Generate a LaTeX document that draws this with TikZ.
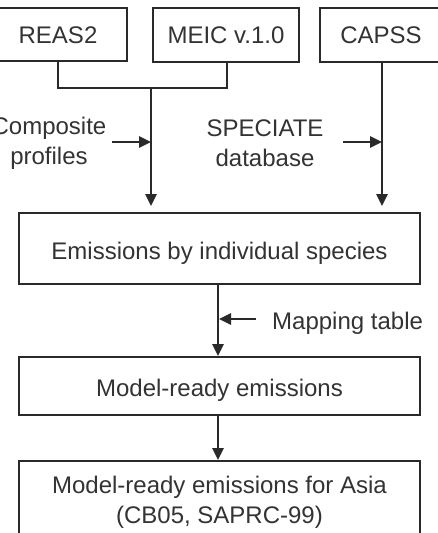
\documentclass[tikz,border=0pt]{standalone}
\usepackage{fontspec}
\setmainfont{Liberation Sans}
\usetikzlibrary{arrows.meta}
\definecolor{txt}{HTML}{333333}
\definecolor{ln}{HTML}{2A2A2A}
\begin{document}
\begin{tikzpicture}[x=1pt,y=-1pt,
  box/.style={draw=ln,line width=1.7pt,text=txt},
  lbl/.style={text=txt,align=center,inner sep=0pt},
  conn/.style={draw=ln,line width=2.6pt},
  arr/.style={conn,-{Triangle[length=12pt,width=11pt]}},
  every node/.style={font=\fontsize{24}{30}\selectfont}]
\useasboundingbox (0,0) rectangle (437,533);
\fill[white] (0,0) rectangle (437,533);
% boxes
\draw[box] (-11,8) rectangle (127,61);
\node[lbl] (reas) at (58,35.5) {REAS2};
\draw[box] (153,8) rectangle (299,62);
\node[lbl] (meic) at (226,35.5) {MEIC v.1.0};
\draw[box] (320,8) rectangle (442,62);
\node[lbl] (capss) at (381,35.5) {CAPSS};
\draw[box] (19,213) rectangle (420,284);
\node[lbl] (emis) at (219.5,253) {Emissions by individual species};
\draw[box] (19,357) rectangle (420,415);
\node[lbl] (model) at (219.5,390) {Model-ready emissions};
\draw[box] (19,461) rectangle (420,545);
\node[lbl] (asia) at (219.5,502) {Model-ready emissions for Asia\\(CB05, SAPRC-99)};
% side labels
\node[lbl] (comp) at (49,143) {Composite\\profiles};
\node[lbl] (spec) at (265,143) {SPECIATE\\database};
\node[lbl,anchor=west] (map) at (272,323) {Mapping table};
% coordinates
\coordinate (r1) at (58,61);
\coordinate (m1) at (227,62);
\coordinate (j) at (151,88);
\coordinate (jt) at (151,206);
\coordinate (c1) at (382,62);
\coordinate (ct) at (382,206);
\coordinate (e1) at (218,284);
\coordinate (e2) at (218,356);
\coordinate (mo1) at (218,415);
\coordinate (mo2) at (218,460);
% connectors
\draw[conn] (r1) |- (j) -| (m1);
\draw[arr] (j) -- (jt);
\draw[arr] (c1) -- (ct);
\draw[arr] (112,142) -- (151,142);
\draw[arr] (343,142) -- (382,142);
\draw[arr] (e1) -- (e2);
\draw[arr] (256,319) -- (219,319);
\draw[arr] (mo1) -- (mo2);
\end{tikzpicture}
\end{document}
